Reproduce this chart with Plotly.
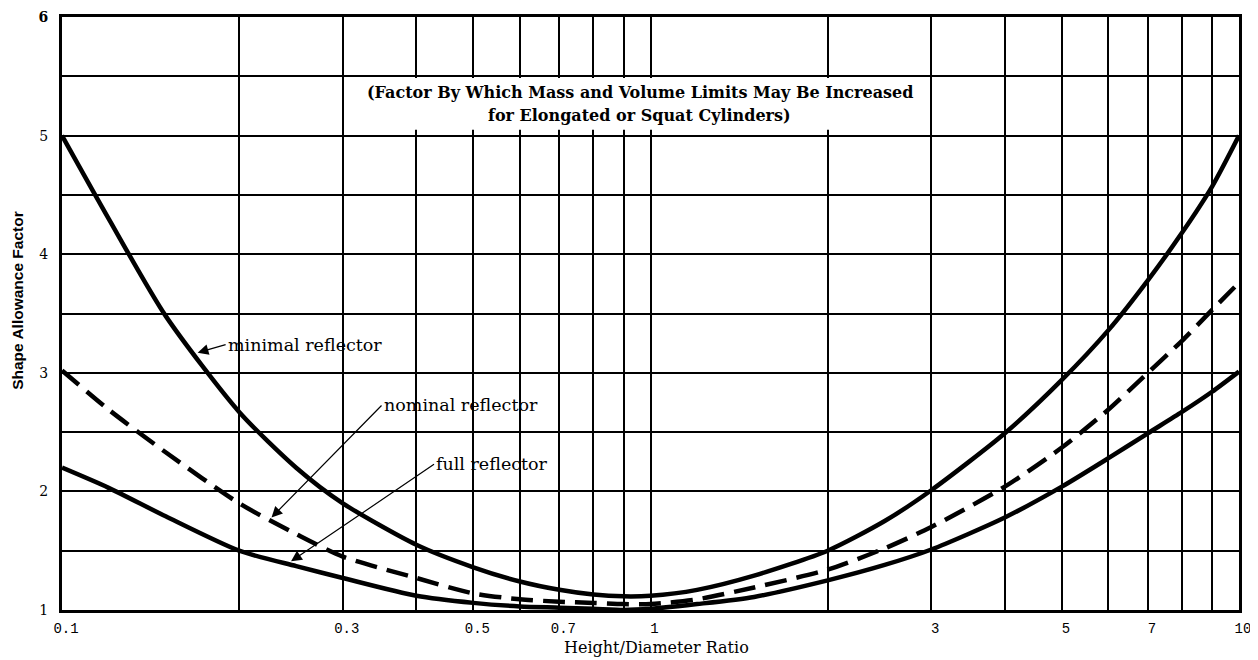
import numpy as np
import plotly.graph_objects as go

# ---------------- data ----------------
ratio = [0.1, 0.12, 0.15, 0.2, 0.25, 0.3, 0.4, 0.5, 0.6, 0.7, 0.8, 0.9, 1.0,
         1.2, 1.5, 2, 2.5, 3, 4, 5, 6, 7, 8, 9, 10]
minimal = [5.00, 4.30, 3.48, 2.67, 2.20, 1.90, 1.55, 1.36, 1.24, 1.17, 1.13, 1.115, 1.12,
           1.17, 1.29, 1.50, 1.75, 2.01, 2.49, 2.94, 3.36, 3.78, 4.18, 4.57, 5.00]
nominal = [3.02, 2.69, 2.33, 1.90, 1.64, 1.45, 1.27, 1.14, 1.09, 1.07, 1.06, 1.05, 1.05,
           1.09, 1.19, 1.34, 1.52, 1.70, 2.04, 2.37, 2.69, 3.00, 3.27, 3.53, 3.76]
full = [2.20, 2.03, 1.79, 1.50, 1.37, 1.27, 1.12, 1.06, 1.03, 1.02, 1.01, 1.00, 1.01,
        1.05, 1.11, 1.25, 1.38, 1.51, 1.78, 2.04, 2.28, 2.49, 2.67, 2.84, 3.01]

x_grid = [0.1, 0.2, 0.3, 0.4, 0.5, 0.6, 0.7, 0.8, 0.9, 1, 2, 3, 4, 5, 6, 7, 8, 9, 10]
x_labels = ["0.1", "", "0.3", "", "0.5", "", "0.7", "", "", "1", "", "3", "", "5", "", "7", "", "", "10"]
y_grid = [1, 1.5, 2, 2.5, 3, 3.5, 4, 4.5, 5, 5.5, 6]
y_labels = ["1", "", "2", "", "3", "", "4", "", "5", "", "<b>6</b>"]

labels = ["minimal reflector", "nominal reflector", "full reflector"]
label_tip_x = [0.17, 0.227, 0.245]
label_tip_y = [3.17, 1.78, 1.41]

note_line1 = "(Factor By Which Mass and Volume Limits May Be Increased"
note_line2 = "for Elongated or Squat Cylinders)"

# ---------------- figure ----------------
fig = go.Figure()
fig.add_trace(go.Scatter(x=ratio, y=minimal, mode="lines", name="minimal",
                         line=dict(color="black", width=4.5, shape="spline", smoothing=0.7)))
fig.add_trace(go.Scatter(x=ratio, y=nominal, mode="lines", name="nominal",
                         line=dict(color="black", width=4.5, dash="22px,10px", shape="spline", smoothing=0.7)))
fig.add_trace(go.Scatter(x=ratio, y=full, mode="lines", name="full",
                         line=dict(color="black", width=4.5, shape="spline", smoothing=0.7)))

# white box behind note text (covers gridlines)
fig.add_shape(type="rect", xref="x", yref="y", x0=0.31, x1=2.9, y0=5.05, y1=5.485,
              fillcolor="white", line=dict(width=0), layer="between")

serif = "DejaVu Serif"
ann = []
ann.append(dict(text=f"<b>{note_line1}</b>", xref="paper", yref="paper", x=0.491, y=0.8735,
                xanchor="center", yanchor="middle",
                showarrow=False, font=dict(family=serif, size=16, color="black")))
ann.append(dict(text=f"<b>{note_line2}</b>", xref="paper", yref="paper", x=0.491, y=0.8347,
                xanchor="center", yanchor="middle",
                showarrow=False, font=dict(family=serif, size=16, color="black")))
# axis titles
ann.append(dict(text="<b>Shape Allowance Factor</b>", xref="paper", yref="paper", x=-0.0374, y=0.523,
                xanchor="center", yanchor="middle",
                textangle=-90, showarrow=False, font=dict(family="Liberation Sans", size=15.5, color="black")))
ann.append(dict(text="Height/Diameter Ratio", xref="paper", yref="paper", x=0.5055, y=-0.0640,
                xanchor="center", yanchor="middle",
                showarrow=False, font=dict(family=serif, size=16, color="black")))
# curve labels with arrows
offsets = [(28, -8), (110, -112), (143, -97)]
for lab, tx, ty, (ax_, ay_) in zip(labels, label_tip_x, label_tip_y, offsets):
    ann.append(dict(text=lab, x=np.log10(tx), y=ty, xref="x", yref="y",
                    ax=ax_, ay=ay_, xanchor="left", yanchor="middle",
                    showarrow=True, arrowhead=2, arrowsize=1.8, arrowwidth=1.2, arrowcolor="black",
                    font=dict(family=serif, size=17.5, color="black")))

fig.update_layout(
    width=1250, height=652,
    margin=dict(l=54, r=19, t=9, b=50, autoexpand=False),
    paper_bgcolor="white", plot_bgcolor="white",
    showlegend=False,
    annotations=ann,
)
fig.update_xaxes(type="log", range=[-1, 1], tickvals=x_grid, ticktext=x_labels,
                 showgrid=True, gridcolor="black", gridwidth=2,
                 showline=True, linecolor="black", linewidth=3, mirror=True,
                 ticks="", zeroline=False, ticklabelstandoff=3, ticklabelshift=4,
                 automargin=False,
                 tickfont=dict(family="Liberation Mono", size=14, color="black"))
fig.update_yaxes(range=[1, 6], tickvals=y_grid, ticktext=y_labels,
                 showgrid=True, gridcolor="black", gridwidth=2,
                 showline=True, linecolor="black", linewidth=3, mirror=True,
                 ticks="", zeroline=False, ticklabelstandoff=8,
                 automargin=False,
                 tickfont=dict(family=serif, size=14, color="black"))

fig.write_html("out.html")
